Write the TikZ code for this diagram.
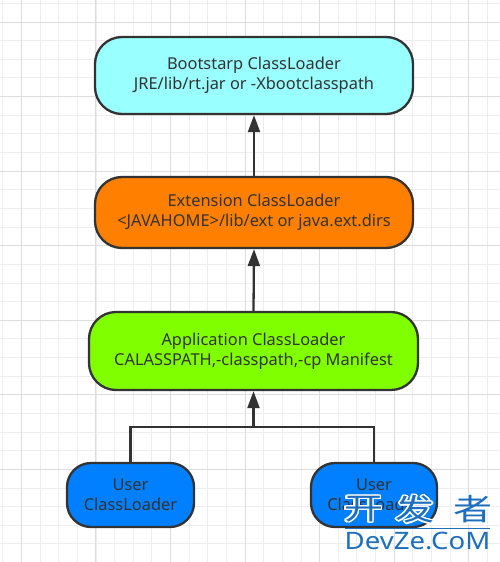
\documentclass[tikz,border=0pt]{standalone}
\usepackage{fontspec}
\setmainfont{Noto Sans}
\newfontfamily\cjkfont{Noto Sans CJK SC}
\usepackage[copies]{contour}
\contourlength{1.2pt}
\usetikzlibrary{arrows.meta}
\definecolor{txt}{HTML}{333333}
\definecolor{edge}{HTML}{333333}
\definecolor{cboot}{HTML}{99FFFF}
\definecolor{cext}{HTML}{FF8000}
\definecolor{capp}{HTML}{80FF00}
\definecolor{cuser}{HTML}{007FFF}
\definecolor{wm}{HTML}{1E6EBE}
\definecolor{gminor}{HTML}{EEEEEE}
\definecolor{gmajor}{HTML}{DDDDDD}
\tikzset{
  loader/.style={draw=edge, line width=2.3pt, rounded corners=27pt, align=center,
    text=txt, font=\fontsize{16.4}{20}\selectfont, inner sep=0pt},
  link/.style={draw=edge, line width=2.3pt},
  arr/.style={link, -{Triangle[length=17pt,width=12pt]}},
  wmtext/.style={text=wm, inner sep=0pt, anchor=center}
}
\begin{document}
\begin{tikzpicture}[x=1pt,y=-1pt]
\useasboundingbox (0,0) rectangle (500,562);
\fill[white] (0,0) rectangle (500,562);
% grid
\foreach \i in {0,...,27} {
  \draw[gminor, line width=0.8pt] ({2.7+18.64*\i},0) -- ({2.7+18.64*\i},562);
}
\foreach \i in {0,...,30} {
  \draw[gminor, line width=0.8pt] (0,{3.3+18.64*\i}) -- (500,{3.3+18.64*\i});
}
\foreach \i in {0,...,6} {
  \draw[gmajor, line width=0.8pt] ({21.3+74.56*\i},0) -- ({21.3+74.56*\i},562);
  \draw[gmajor, line width=0.8pt] (0,{21.9+74.56*\i}) -- (500,{21.9+74.56*\i});
}
% nodes
\node[loader, fill=cboot, minimum width=318pt, minimum height=77pt] (boot) at (254,75.5)
  {Bootstarp ClassLoader\\JRE/lib/rt.jar or -Xbootclasspath};
\node[loader, fill=cext, minimum width=318pt, minimum height=71pt] (ext) at (254,212.5)
  {Extension ClassLoader\\<JAVAHOME>/lib/ext or java.ext.dirs};
\node[loader, fill=capp, minimum width=329pt, minimum height=78pt] (app) at (253.5,351)
  {Application ClassLoader\\CALASSPATH,-classpath,-cp Manifest};
\node[loader, fill=cuser, minimum width=127pt, minimum height=64pt, rounded corners=24pt] (user1) at (130.5,495)
  {User\\ClassLoader};
\node[loader, fill=cuser, minimum width=126pt, minimum height=64pt, rounded corners=24pt] (user2) at (374,495)
  {User\\ClassLoader};
% connectors
\coordinate (join) at (app.south |- 0,427);
\draw[arr] (ext.north) -- (boot.south);
\draw[arr] (app.north) -- (ext.south);
\draw[link] (user1.north) |- (join);
\draw[link] (user2.north) |- (join);
\draw[arr] (join) -- (app.south);
% watermark
\node[wmtext, font=\cjkfont\fontsize{30}{30}\selectfont, xscale=1.3] (wm1) at (363.5,510) {\contour{white}{开}};
\node[wmtext, font=\cjkfont\fontsize{30}{30}\selectfont, xscale=1.3] (wm2) at (415,510) {\contour{white}{发}};
\node[wmtext, font=\cjkfont\fontsize{30}{30}\selectfont, xscale=1.3] (wm3) at (472.5,510) {\contour{white}{者}};
\draw[wm, line width=0.6pt] (345,528) -- (490,528);
\node[wmtext, font=\fontsize{24}{24}\selectfont, xscale=1.15] (wm4) at (417.5,541) {DevZe.CoM};
\end{tikzpicture}
\end{document}
